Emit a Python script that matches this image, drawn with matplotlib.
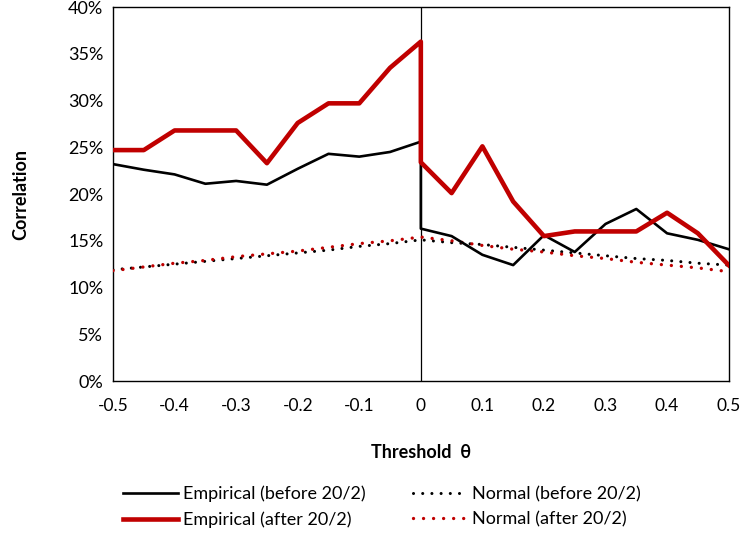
import matplotlib
matplotlib.use("Agg")
import matplotlib.pyplot as plt
from matplotlib.ticker import FuncFormatter
from matplotlib.lines import Line2D

plt.rcParams['font.family'] = ['Lato', 'DejaVu Sans']

# Empirical series: x=0 appears twice (value before / after the jump)
x_emp = [-0.5, -0.45, -0.4, -0.35, -0.3, -0.25, -0.2, -0.15, -0.1, -0.05, 0.0,
         0.0, 0.05, 0.1, 0.15, 0.2, 0.25, 0.3, 0.35, 0.4, 0.45, 0.5]
emp_before = [23.2, 22.6, 22.1, 21.1, 21.4, 21.0, 22.7, 24.3, 24.0, 24.5, 25.6,
              16.3, 15.5, 13.5, 12.4, 15.6, 13.8, 16.8, 18.4, 15.8, 15.1, 14.1]
emp_after = [24.7, 24.7, 26.8, 26.8, 26.8, 23.3, 27.6, 29.7, 29.7, 33.5, 36.3,
             23.4, 20.1, 25.1, 19.2, 15.5, 16.0, 16.0, 16.0, 18.0, 15.8, 12.4]

x_norm = [-0.5, -0.45, -0.4, -0.35, -0.3, -0.25, -0.2, -0.15, -0.1, -0.05, 0.0,
          0.05, 0.1, 0.15, 0.2, 0.25, 0.3, 0.35, 0.4, 0.45, 0.5]
norm_before = [11.9, 12.2, 12.5, 12.8, 13.1, 13.4, 13.7, 14.0, 14.4, 14.7, 15.1,
               14.8, 14.6, 14.3, 14.0, 13.7, 13.4, 13.1, 12.9, 12.6, 12.4]
norm_after = [11.8, 12.2, 12.6, 12.9, 13.3, 13.6, 13.9, 14.3, 14.7, 15.0, 15.4,
              15.0, 14.5, 14.1, 13.8, 13.4, 13.1, 12.7, 12.4, 12.1, 11.7]

x_ticks = [-0.5, -0.4, -0.3, -0.2, -0.1, 0, 0.1, 0.2, 0.3, 0.4, 0.5]
x_ticklabels = ['-0.5', '-0.4', '-0.3', '-0.2', '-0.1', '0', '0.1', '0.2', '0.3', '0.4', '0.5']
y_ticks = [0, 5, 10, 15, 20, 25, 30, 35, 40]

lbl_emp_before = 'Empirical (before 20/2)'
lbl_emp_after = 'Empirical (after 20/2)'
lbl_norm_before = 'Normal (before 20/2)'
lbl_norm_after = 'Normal (after 20/2)'

RED = '#C00000'
FS = 13
fig = plt.figure(figsize=(7.42, 5.42), dpi=100)
ax = fig.add_axes([0.1523, 0.297, 0.8297, 0.690])

dot = (0, (0.01, 3.0))
ax.plot(x_norm, norm_before, color='black', lw=2.2, linestyle=dot, dash_capstyle='round', zorder=3)
ax.plot(x_norm, norm_after, color=RED, lw=2.4, linestyle=dot, dash_capstyle='round', zorder=3)
ax.plot(x_emp, emp_before, color='black', lw=1.9, zorder=4)
ax.plot(x_emp, emp_after, color=RED, lw=3.3, zorder=5)

ax.axvline(0, color='black', lw=0.9, zorder=2)

ax.set_xlim(-0.5, 0.5)
ax.set_ylim(0, 40)
ax.set_xticks(x_ticks)
ax.set_xticklabels(x_ticklabels)
ax.set_yticks(y_ticks)
ax.yaxis.set_major_formatter(FuncFormatter(lambda v, p: f"{int(v)}%"))
ax.tick_params(axis='x', length=0, labelsize=12.5, pad=12)
ax.tick_params(axis='y', length=0, labelsize=FS, pad=7)
for s in ax.spines.values():
    s.set_color('black')
    s.set_linewidth(1.0)

ax.set_xlabel('Threshold  θ', fontsize=FS, fontweight='bold', labelpad=22)
ax.set_ylabel('Correlation', fontsize=FS, fontweight='bold', labelpad=28)

# column-major order for ncol=2
handles = [
    Line2D([], [], color='black', lw=1.9),
    Line2D([], [], color=RED, lw=3.3),
    Line2D([], [], color='black', lw=2.2, linestyle=dot, dash_capstyle='round'),
    Line2D([], [], color=RED, lw=2.4, linestyle=dot, dash_capstyle='round'),
]
labels = [lbl_emp_before, lbl_emp_after, lbl_norm_before, lbl_norm_after]
fig.legend(handles, labels, loc='center', bbox_to_anchor=(0.515, 0.065), ncol=2,
           frameon=False, fontsize=FS, handlelength=3.0, handletextpad=0.3,
           columnspacing=2.6, labelspacing=0.5)

fig.savefig('out.png', dpi=100)
